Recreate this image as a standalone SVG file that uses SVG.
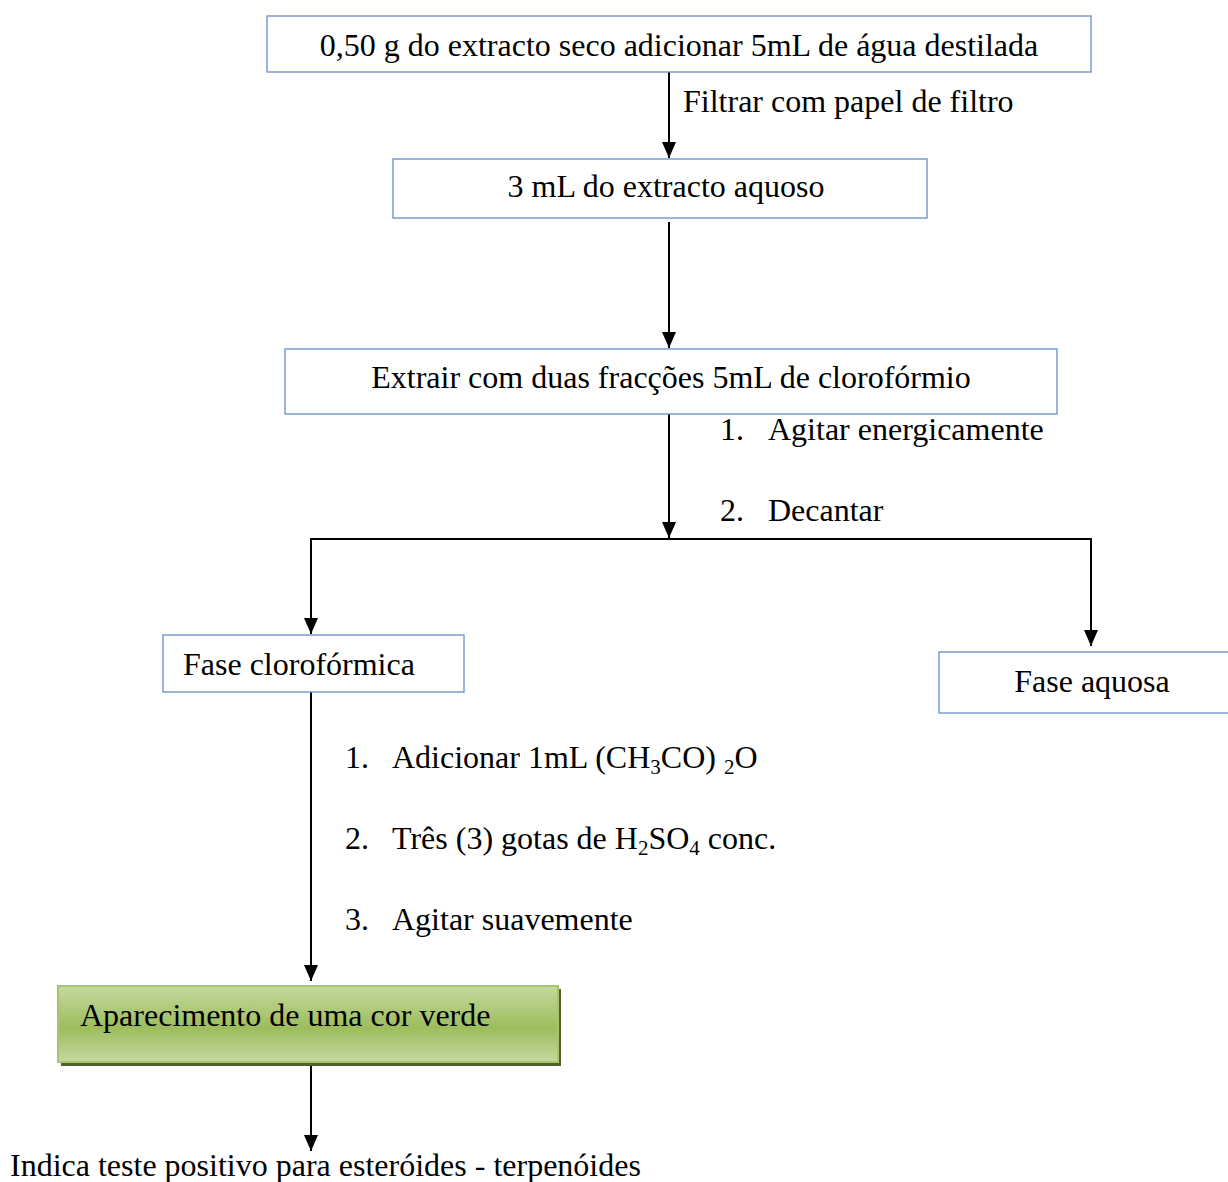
<svg xmlns="http://www.w3.org/2000/svg" width="1228" height="1182" viewBox="0 0 1228 1182">
<style>
.box{fill:#fff;stroke:#6390c8;stroke-width:1.3}
.t{font-family:"Liberation Serif","Times New Roman",serif;font-size:32px;fill:#000}
.c{text-anchor:middle}
.sub{font-size:21px}
.ln{fill:none;stroke:#000;stroke-width:2}
</style>
<defs>
<marker id="ah" markerUnits="userSpaceOnUse" viewBox="0 0 16 14" markerWidth="16" markerHeight="14" refX="16" refY="7" orient="auto">
<path d="M0,0 L16,7 L0,14 z" fill="#000"/>
</marker>
<linearGradient id="gg" x1="0" y1="0" x2="0" y2="1">
<stop offset="0" stop-color="#c5d9a0"/>
<stop offset="0.55" stop-color="#9dbd5c"/>
<stop offset="1" stop-color="#c5d9a0"/>
</linearGradient>
</defs>

<g id="connectors">
<line class="ln" x1="669" y1="72" x2="669" y2="158" marker-end="url(#ah)"/>
<line class="ln" x1="669" y1="222" x2="669" y2="348" marker-end="url(#ah)"/>
<line class="ln" x1="669" y1="414" x2="669" y2="538" marker-end="url(#ah)"/>
<polyline class="ln" points="669,539 311,539 311,634" marker-end="url(#ah)"/>
<polyline class="ln" points="669,539 1091,539 1091,646" marker-end="url(#ah)"/>
<line class="ln" x1="311" y1="692" x2="311" y2="981" marker-end="url(#ah)"/>
<line class="ln" x1="311" y1="1062" x2="311" y2="1151" marker-end="url(#ah)"/>
</g>

<g id="n1">
<rect class="box" x="267" y="16" width="824" height="56"/>
<text class="t c" x="679" y="56">0,50 g do extracto seco adicionar 5mL de água destilada</text>
</g>
<g id="l1">
<text class="t" x="683" y="112">Filtrar com papel de filtro</text>
</g>
<g id="n2">
<rect class="box" x="393" y="159" width="534" height="59"/>
<text class="t c" x="666" y="197">3 mL do extracto aquoso</text>
</g>
<g id="n3">
<rect class="box" x="285" y="349" width="772" height="65"/>
<text class="t c" x="671" y="388">Extrair com duas fracções 5mL de clorofórmio</text>
</g>
<g id="l2">
<text class="t" x="720" y="440">1.</text><text class="t" x="768" y="440">Agitar energicamente</text>
<text class="t" x="720" y="521">2.</text><text class="t" x="768" y="521">Decantar</text>
</g>
<g id="n4">
<rect class="box" x="163" y="635" width="301" height="57"/>
<text class="t" x="183" y="675">Fase clorofórmica</text>
</g>
<g id="n5">
<rect class="box" x="939" y="652" width="300" height="61"/>
<text class="t c" x="1092" y="692">Fase aquosa</text>
</g>
<g id="l3">
<text class="t" x="345" y="768">1.</text><text class="t" x="392" y="768">Adicionar 1mL (CH<tspan class="sub" dy="6">3</tspan><tspan dy="-6">CO) </tspan><tspan class="sub" dy="6">2</tspan><tspan dy="-6">O</tspan></text>
<text class="t" x="345" y="849">2.</text><text class="t" x="392" y="849">Três (3) gotas de H<tspan class="sub" dy="6">2</tspan><tspan dy="-6">SO</tspan><tspan class="sub" dy="6">4</tspan><tspan dy="-6"> conc.</tspan></text>
<text class="t" x="345" y="930">3.</text><text class="t" x="392" y="930">Agitar suavemente</text>
</g>
<g id="n6">
<rect x="61" y="989" width="500" height="77" fill="#4f6228"/>
<rect x="58" y="986" width="500" height="76" fill="url(#gg)" stroke="#a9c46e" stroke-width="2"/>
<text class="t" x="80" y="1026">Aparecimento de uma cor verde</text>
</g>
<g id="n7">
<text class="t" x="10" y="1176">Indica teste positivo para esteróides - terpenóides</text>
</g>
</svg>
